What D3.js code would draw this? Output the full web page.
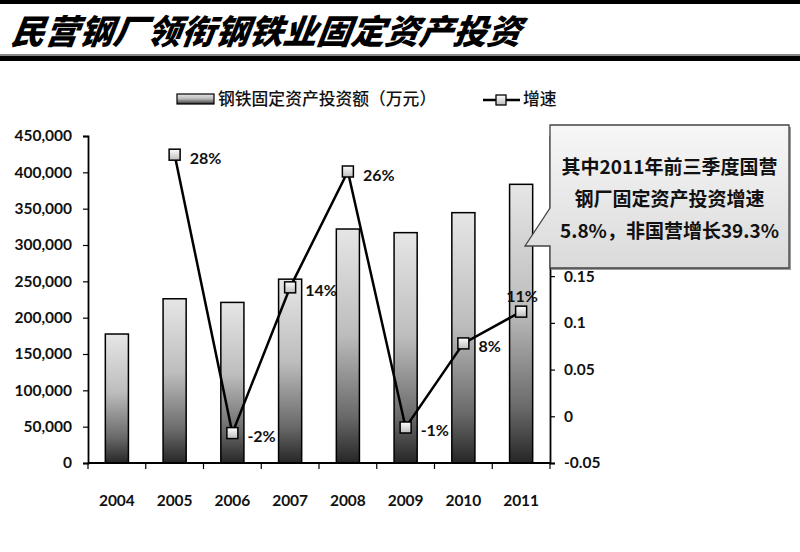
<!DOCTYPE html>
<html>
<head>
<meta charset="utf-8">
<script src="https://cdn.jsdelivr.net/npm/d3@7"></script>
<style>
  html, body { margin: 0; padding: 0; background: #fff; }
  svg { display: block; }
</style>
</head>
<body>
<svg id="chart" width="800" height="552"></svg>
<script>
// ---------- data ----------
const years = ["2004", "2005", "2006", "2007", "2008", "2009", "2010", "2011"];
const investment = [177500, 226000, 221000, 253000, 322000, 317000, 344500, 383500];
const growthYears = ["2005", "2006", "2007", "2008", "2009", "2010", "2011"];
const growth = [0.28, -0.018, 0.138, 0.262, -0.012, 0.078, 0.112];
const growthLabels = ["28%", "-2%", "14%", "26%", "-1%", "8%", "11%"];
const leftTicks = [0, 50000, 100000, 150000, 200000, 250000, 300000, 350000, 400000, 450000];
// right-axis ticks above 0.15 are hidden behind the callout in the reference
const rightTicks = [-0.05, 0, 0.05, 0.1, 0.15];
const titleText = "民营钢厂领衔钢铁业固定资产投资";
const legendBar = "钢铁固定资产投资额（万元）";
const legendLine = "增速";
const calloutLines = ["其中2011年前三季度国营", "钢厂固定资产投资增速", "5.8%，非国营增长39.3%"];

// ---------- setup ----------
const svg = d3.select("#chart");
const numFont = "Lato, 'Noto Sans', sans-serif";
const cjkFont = "'Noto Sans CJK SC', 'Noto Sans', sans-serif";

const defs = svg.append("defs");
const barGrad = defs.append("linearGradient").attr("id", "barGrad")
  .attr("x1", 0).attr("y1", 0).attr("x2", 0).attr("y2", 1);
barGrad.append("stop").attr("offset", "0%").attr("stop-color", "#e6e6e6");
barGrad.append("stop").attr("offset", "45%").attr("stop-color", "#bdbdbd");
barGrad.append("stop").attr("offset", "80%").attr("stop-color", "#6a6a6a");
barGrad.append("stop").attr("offset", "100%").attr("stop-color", "#262626");

const mkGrad = defs.append("linearGradient").attr("id", "mkGrad")
  .attr("x1", 0).attr("y1", 0).attr("x2", 0).attr("y2", 1);
mkGrad.append("stop").attr("offset", "0%").attr("stop-color", "#ffffff");
mkGrad.append("stop").attr("offset", "100%").attr("stop-color", "#bcbcbc");

const boxGrad = defs.append("linearGradient").attr("id", "boxGrad")
  .attr("x1", 0).attr("y1", 0).attr("x2", 0).attr("y2", 1);
boxGrad.append("stop").attr("offset", "0%").attr("stop-color", "#f7f7f7");
boxGrad.append("stop").attr("offset", "100%").attr("stop-color", "#dadada");

// ---------- title band ----------
svg.append("rect").attr("x", 0).attr("y", 0).attr("width", 800).attr("height", 4).attr("fill", "#000");
svg.append("rect").attr("x", 0).attr("y", 54).attr("width", 800).attr("height", 2).attr("fill", "#888");
svg.append("rect").attr("x", 0).attr("y", 56).attr("width", 800).attr("height", 5).attr("fill", "#000");
svg.append("text").attr("x", 10).attr("y", 44)
  .attr("font-family", cjkFont).attr("font-size", 34).attr("font-weight", 900)
  .attr("font-style", "italic").attr("fill", "#000")
  .attr("transform", "skewX(-8) translate(6,0)")
  .text(titleText);

// ---------- scales ----------
const pLeft = 88, pRight = 550, pTop = 136, pBottom = 463;
const x = d3.scaleBand().domain(years).range([pLeft, pRight]).paddingInner(0.6).paddingOuter(0.3);
const yL = d3.scaleLinear().domain([0, 450000]).range([pBottom, pTop]);
const yR = d3.scaleLinear().domain([-0.05, 0.3]).range([pBottom, pTop]);

// ---------- bars ----------
svg.append("g").selectAll("rect").data(investment).join("rect")
  .attr("x", (d, i) => x(years[i]))
  .attr("y", d => yL(d))
  .attr("width", x.bandwidth())
  .attr("height", d => yL(0) - yL(d))
  .attr("fill", "url(#barGrad)")
  .attr("stroke", "#000").attr("stroke-width", 1.5);

// ---------- axes ----------
const axL = svg.append("g").attr("transform", `translate(${pLeft},0)`)
  .call(d3.axisLeft(yL).tickValues(leftTicks).tickSize(5).tickPadding(11)
    .tickFormat(d3.format(",")));
axL.select(".domain").attr("stroke", "#000").attr("stroke-width", 1.8);
axL.selectAll(".tick line").attr("stroke", "#000").attr("stroke-width", 1.2);
axL.selectAll("text").attr("font-family", numFont).attr("font-size", 15.5)
  .attr("font-weight", 700).attr("fill", "#111");

const axR = svg.append("g").attr("transform", `translate(${pRight},0)`)
  .call(d3.axisRight(yR).tickValues(rightTicks).tickSize(5).tickPadding(9)
    .tickFormat(d => String(+d.toFixed(2))));
axR.select(".domain").attr("stroke", "#000").attr("stroke-width", 1.8);
axR.selectAll(".tick line").attr("stroke", "#000").attr("stroke-width", 1.2);
axR.selectAll("text").attr("font-family", numFont).attr("font-size", 15.5)
  .attr("font-weight", 700).attr("fill", "#111");

// x axis with ticks at category boundaries
const axX = svg.append("g").attr("transform", `translate(0,${pBottom})`);
axX.append("line").attr("x1", pLeft).attr("x2", pRight).attr("y1", 0).attr("y2", 0)
  .attr("stroke", "#000").attr("stroke-width", 2);
const step = x.step();
const boundaries = d3.range(years.length + 1).map(i => pLeft + i * step);
axX.selectAll("line.tk").data(boundaries).join("line").attr("class", "tk")
  .attr("x1", d => d).attr("x2", d => d).attr("y1", 0).attr("y2", 6)
  .attr("stroke", "#000").attr("stroke-width", 1.2);
axX.selectAll("text").data(years).join("text")
  .attr("x", d => x(d) + x.bandwidth() / 2).attr("y", 43)
  .attr("text-anchor", "middle")
  .attr("font-family", numFont).attr("font-size", 15.5).attr("font-weight", 700)
  .attr("fill", "#111").text(d => d);

// ---------- line ----------
const cx = d => x(d) + x.bandwidth() / 2;
const pts = growth.map((g, i) => [cx(growthYears[i]), yR(g)]);
svg.append("path").attr("d", d3.line()(pts))
  .attr("fill", "none").attr("stroke", "#000").attr("stroke-width", 2.5);
const ms = 11;
svg.append("g").selectAll("rect").data(pts).join("rect")
  .attr("x", d => d[0] - ms / 2).attr("y", d => d[1] - ms / 2)
  .attr("width", ms).attr("height", ms)
  .attr("fill", "url(#mkGrad)").attr("stroke", "#000").attr("stroke-width", 1.5);
const last = growth.length - 1;
svg.append("g").selectAll("text").data(pts).join("text")
  .attr("x", (d, i) => i === last ? d[0] + 1 : d[0] + 15)
  .attr("y", (d, i) => i === last ? d[1] - 10 : d[1] + 9)
  .attr("text-anchor", (d, i) => i === last ? "middle" : "start")
  .attr("font-family", numFont).attr("font-size", 16).attr("font-weight", 700)
  .attr("fill", "#111").text((d, i) => growthLabels[i]);

// ---------- legend ----------
svg.append("rect").attr("x", 177).attr("y", 94).attr("width", 37).attr("height", 10)
  .attr("fill", "url(#barGrad)").attr("stroke", "#000").attr("stroke-width", 1.2);
svg.append("text").attr("x", 218).attr("y", 105)
  .attr("font-family", cjkFont).attr("font-size", 16.8).attr("font-weight", 500)
  .attr("fill", "#111").text(legendBar);
svg.append("line").attr("x1", 483).attr("x2", 520).attr("y1", 100).attr("y2", 100)
  .attr("stroke", "#000").attr("stroke-width", 2.5);
svg.append("rect").attr("x", 496).attr("y", 95).attr("width", 10).attr("height", 10)
  .attr("fill", "url(#mkGrad)").attr("stroke", "#000").attr("stroke-width", 1.3);
svg.append("text").attr("x", 523).attr("y", 105)
  .attr("font-family", cjkFont).attr("font-size", 16.8).attr("font-weight", 500)
  .attr("fill", "#111").text(legendLine);

// ---------- callout ----------
const bx = 550, by = 125, bw = 239, bh = 143;
svg.append("rect").attr("x", bx + 2).attr("y", by + 2).attr("width", bw).attr("height", bh)
  .attr("fill", "#9a9a9a");
svg.append("path")
  .attr("d", `M${bx},${by} H${bx + bw} V${by + bh} H${bx} V246 L525,246 L${bx},208 Z`)
  .attr("fill", "url(#boxGrad)").attr("stroke", "#444").attr("stroke-width", 1.3);
svg.append("g").selectAll("text").data(calloutLines).join("text")
  .attr("x", bx + bw / 2).attr("y", (d, i) => 174 + i * 32)
  .attr("text-anchor", "middle")
  .attr("font-family", cjkFont).attr("font-size", 19).attr("font-weight", 700)
  .attr("fill", "#111").text(d => d);
</script>
</body>
</html>
